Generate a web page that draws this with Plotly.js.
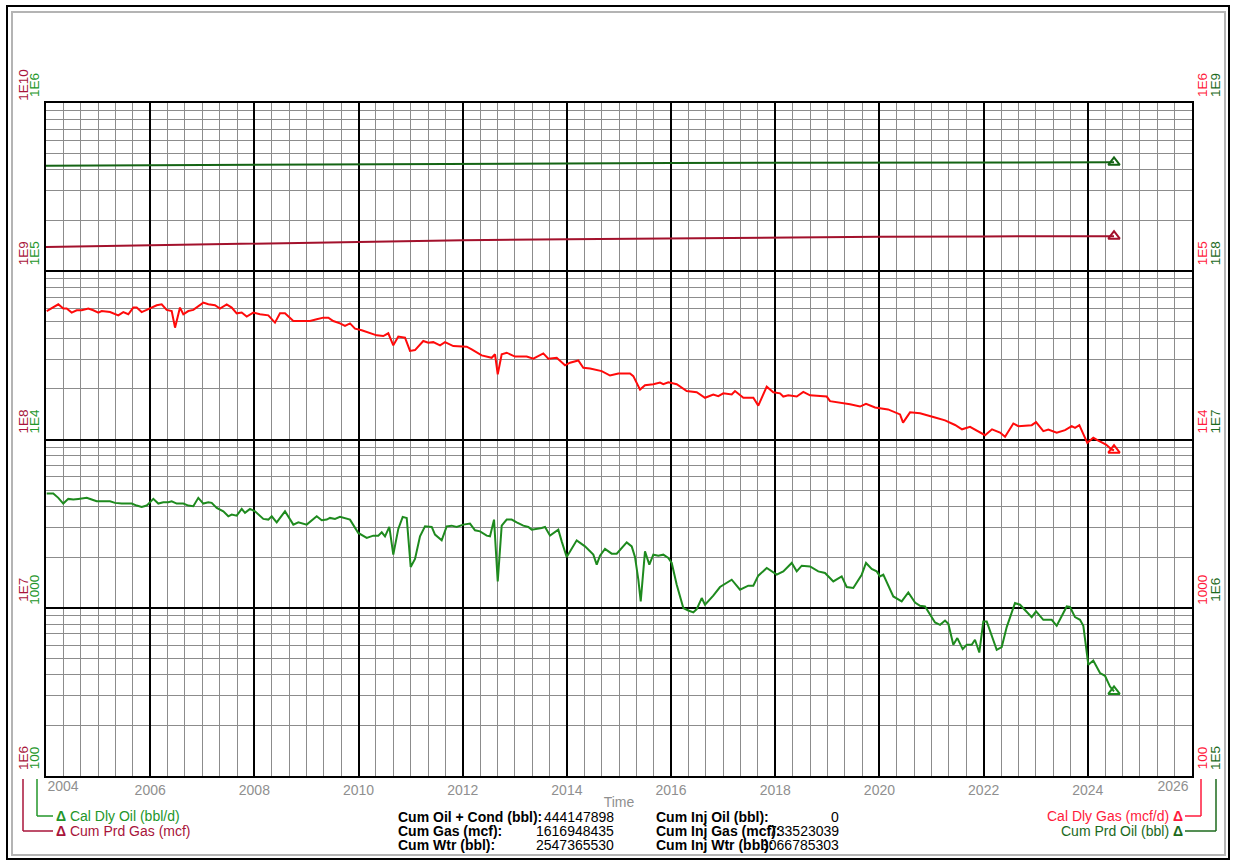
<!DOCTYPE html>
<html>
<head>
<meta charset="utf-8">
<script src="https://cdn.plot.ly/plotly-3.0.1.min.js"></script>
<style>
  html, body { margin: 0; padding: 0; background: #fff; }
  #wrap { position: relative; width: 1233px; height: 861px; overflow: hidden; }
  #outer { position: absolute; left: 6px; top: 5px; width: 1220px; height: 851px; border: 2px solid #000; }
  #inner { position: absolute; left: 11px; top: 11px; width: 1211px; height: 841px; border: 2px solid #b4b4b4; }
  #chart { position: absolute; left: 0; top: 0; width: 1233px; height: 861px; }
</style>
</head>
<body>
<div id="wrap">
  <div id="outer"></div>
  <div id="inner"></div>
  <div id="chart"></div>
</div>
<script>
// ---------------- DATA ----------------
// Calendar daily oil rate (bbl/d), time in decimal years
const oilYears = [2004.013,2004.140,2004.236,2004.332,2004.428,2004.524,2004.620,2004.781,2004.877,2004.973,
  2005.229,2005.325,2005.453,2005.645,2005.741,2005.837,2005.933,2006.060,2006.156,2006.252,2006.348,2006.413,
  2006.509,2006.636,2006.732,2006.828,2006.924,2007.020,2007.116,2007.181,2007.277,2007.404,2007.500,2007.565,
  2007.661,2007.757,2007.820,2007.916,2008.012,2008.108,2008.172,2008.268,2008.333,2008.429,2008.588,2008.748,
  2008.844,2009.005,2009.132,2009.197,2009.293,2009.389,2009.452,2009.548,2009.644,2009.836,2009.995,2010.157,
  2010.283,2010.379,2010.445,2010.508,2010.591,2010.667,2010.763,2010.848,2010.925,2011.001,2011.084,2011.180,
  2011.276,2011.405,2011.468,2011.596,2011.692,2011.788,2011.884,2012.011,2012.140,2012.236,2012.332,2012.460,
  2012.524,2012.601,2012.672,2012.748,2012.844,2012.940,2013.036,2013.163,2013.259,2013.324,2013.516,2013.580,
  2013.676,2013.835,2013.900,2013.996,2014.188,2014.347,2014.507,2014.572,2014.635,2014.731,2014.860,2014.956,
  2015.148,2015.244,2015.307,2015.371,2015.417,2015.499,2015.582,2015.659,2015.755,2015.851,2015.947,2016.012,
  2016.108,2016.235,2016.331,2016.427,2016.492,2016.588,2016.651,2016.810,2016.939,2017.164,2017.323,2017.482,
  2017.579,2017.674,2017.836,2018.028,2018.154,2018.316,2018.412,2018.508,2018.667,2018.826,2018.955,2019.051,
  2019.114,2019.275,2019.371,2019.498,2019.659,2019.742,2019.851,2019.947,2020.011,2020.074,2020.266,2020.427,
  2020.554,2020.683,2020.779,2020.875,2021.067,2021.163,2021.259,2021.322,2021.418,2021.495,2021.598,2021.675,
  2021.771,2021.834,2021.917,2021.994,2022.059,2022.251,2022.347,2022.443,2022.602,2022.698,2022.923,2023.006,
  2023.146,2023.307,2023.403,2023.595,2023.658,2023.754,2023.850,2023.914,2024.010,2024.105,2024.234,2024.330,
  2024.426,2024.503];
const oilRate = [4770,4770,4500,4160,4436,4395,4436,4500,4395,4293,
  4293,4200,4160,4160,4048,3976,4048,4436,4160,4235,4235,4293,
  4160,4160,4048,4009,4500,4160,4235,4200,3922,3743,3495,3578,
  3529,3869,3662,3869,3743,3495,3373,3341,3495,3219,3743,3119,
  3219,3119,3341,3495,3309,3341,3419,3373,3467,3341,2784,2600,
  2683,2683,2807,2657,3022,2068,2941,3467,3419,1747,1950,2657,
  3047,3022,2720,2516,3047,3076,3022,3119,3162,2885,2846,2683,
  2657,3341,1434,3076,3341,3341,3219,3076,3022,2912,2981,3022,
  2683,2912,2481,2004,2516,2317,2068,1803,2040,2236,2096,2096,
  2447,2317,2004,1468,1090,2163,1803,2068,2040,2068,1977,1846,
  1371,996,963,938,982,1142,1042,1179,1328,1468,1280,1352,
  1352,1551,1723,1572,1645,1846,1645,1778,1761,1645,1609,1503,
  1434,1536,1328,1310,1572,1846,1700,1645,1536,1572,1167,1090,
  1233,1075,1028,1018,818,792,840,803,602,660,568,602,
  602,645,542,829,829,562,584,767,1067,1042,880,951,
  848,848,781,1018,1010,880,848,781,458,486,409,394,
  340,318];

// Calendar daily gas rate (mcf/d)
const gasYears = [2004.013,2004.236,2004.332,2004.397,2004.493,2004.589,2004.685,2004.812,2004.908,2005.004,
  2005.069,2005.229,2005.388,2005.484,2005.580,2005.676,2005.741,2005.837,2005.933,2006.029,2006.125,2006.221,
  2006.317,2006.413,2006.477,2006.572,2006.636,2006.732,2006.828,2007.020,2007.116,2007.244,2007.340,2007.469,
  2007.565,2007.661,2007.757,2007.853,2007.980,2008.108,2008.268,2008.396,2008.492,2008.588,2008.748,2008.876,
  2009.068,2009.197,2009.323,2009.420,2009.515,2009.644,2009.740,2009.836,2009.932,2010.061,2010.220,2010.349,
  2010.475,2010.571,2010.667,2010.763,2010.892,2010.988,2011.084,2011.243,2011.339,2011.435,2011.564,2011.660,
  2011.819,2012.076,2012.172,2012.364,2012.556,2012.620,2012.672,2012.748,2012.844,2013.004,2013.228,2013.355,
  2013.547,2013.643,2013.804,2013.964,2014.060,2014.219,2014.315,2014.444,2014.668,2014.828,2014.987,2015.211,
  2015.275,2015.404,2015.499,2015.659,2015.787,2015.851,2015.947,2016.108,2016.300,2016.492,2016.651,2016.810,
  2016.906,2017.003,2017.164,2017.227,2017.387,2017.579,2017.674,2017.836,2017.962,2018.091,2018.154,2018.250,
  2018.412,2018.538,2018.667,2018.859,2018.988,2019.051,2019.243,2019.435,2019.627,2019.742,2019.915,2020.165,
  2020.395,2020.453,2020.587,2020.779,2021.067,2021.259,2021.451,2021.585,2021.739,2021.892,2022.027,2022.161,
  2022.315,2022.411,2022.570,2022.666,2022.827,2022.923,2023.006,2023.146,2023.242,2023.403,2023.563,2023.691,
  2023.754,2023.837,2023.990,2024.105,2024.202,2024.349,2024.459,2024.503];
const gasRate = [58000,63600,60000,60000,56800,58600,58600,60000,58600,56800,
  58000,57200,54700,57200,55500,60800,60800,57200,58900,60800,62800,63600,
  58900,58000,46200,60800,55500,58000,58900,65100,63600,62800,60000,63600,
  60800,56200,56800,53800,56800,55500,54700,49500,56200,56200,50600,50600,
  50600,51800,53000,53000,50600,49000,47300,49000,45600,44600,42800,41600,
  41200,42800,36300,40900,40300,33600,34000,38500,37600,37900,36300,37900,
  35900,35600,34300,31600,30600,32100,24400,32100,32800,31100,31100,30200,
  32500,30200,30600,27600,28600,29500,26700,26400,25500,24000,24700,24700,
  23800,19800,21000,21300,21800,21300,21900,21300,19400,19100,17700,18500,
  18100,18800,18500,19400,17700,17700,15900,20600,19100,18800,18000,18300,
  18000,19200,18300,18100,18000,16900,16600,16200,15700,16300,15500,15100,
  14100,12600,14500,14300,13500,13000,12200,11500,11900,11200,10600,11500,
  11000,10380,12450,12000,12170,12170,12680,11210,11470,10960,11360,12000,
  11740,12170,9560,10240,9860,9340,8720,8640];

// Cumulative production
const cumYears = [2004.0,2006.0,2008.0,2010.0,2012.0,2014.0,2016.0,2018.0,2020.0,2022.0,2024.0,2024.503];
const cumGas   = [1.395e9,1.430e9,1.465e9,1.499e9,1.527e9,1.552e9,1.573e9,1.589e9,1.603e9,1.611e9,1.6165e9,1.6169e9]; // mcf
const cumOil   = [4.240e8,4.272e8,4.303e8,4.332e8,4.354e8,4.375e8,4.394e8,4.409e8,4.422e8,4.432e8,4.440e8,4.4415e8]; // bbl

// Axis ticks
const xTickVals = [2004,2006,2008,2010,2012,2014,2016,2018,2020,2022,2024,2026];
const xTickText = ['2004','2006','2008','2010','2012','2014','2016','2018','2020','2022','2024','2026'];
const rateTickVals = [100,1000,1e4,1e5,1e6];
const rateTickText = ['100','1000','1E4','1E5','1E6'];
const cumGasTickVals = [1e6,1e7,1e8,1e9,1e10];
const cumGasTickText = ['1E6','1E7','1E8','1E9','1E10'];
const cumOilTickVals = [1e5,1e6,1e7,1e8,1e9];
const cumOilTickText = ['1E5','1E6','1E7','1E8','1E9'];

// Legend and summary text
const legendLeft = ['Cal Dly Oil (bbl/d)','Cum Prd Gas (mcf)'];
const legendRight = ['Cal Dly Gas (mcf/d)','Cum Prd Oil (bbl)'];
const statLabelsA = ['Cum Oil + Cond (bbl):','Cum Gas (mcf):','Cum Wtr (bbl):'];
const statValuesA = ['444147898','1616948435','2547365530'];
const statLabelsB = ['Cum Inj Oil (bbl):','Cum Inj Gas (mcf):','Cum Inj Wtr (bbl):'];
const statValuesB = ['0','733523039','3066785303'];

// ---------------- STYLE ----------------
const C_OIL = '#1e8a1e', C_CUMOIL = '#146414', C_GAS = '#ff0a0a', C_CUMGAS = '#a3112c';
const C_LBL_OIL = '#23962a', C_LBL_CUMGAS = '#a8143a', C_LBL_GAS = '#ff1a3c', C_LBL_CUMOIL = '#1c6a1c';
const FONT = 'Arial, "Liberation Sans", sans-serif';
const GRAY_TXT = '#8f8f8f';

const W = 1233, H = 861;
const PL = 46, PR = 1192, PT = 103, PB = 776;
const px = v => (v - PL) / (PR - PL);
const py = v => (PB - v) / (PB - PT);

function last(a){ return a[a.length-1]; }

const traces = [
  {x: cumYears, y: cumOil, yaxis: 'y4', mode: 'lines', line: {color: C_CUMOIL, width: 2}, hoverinfo: 'skip'},
  {x: cumYears, y: cumGas, yaxis: 'y2', mode: 'lines', line: {color: C_CUMGAS, width: 2}, hoverinfo: 'skip'},
  {x: gasYears, y: gasRate, yaxis: 'y3', mode: 'lines', line: {color: C_GAS, width: 2}, hoverinfo: 'skip'},
  {x: oilYears, y: oilRate, yaxis: 'y', mode: 'lines', line: {color: C_OIL, width: 2}, hoverinfo: 'skip'},
  {x: [last(cumYears)], y: [last(cumOil)], xaxis: 'x3', yaxis: 'y4', mode: 'markers',
   marker: {symbol: 'triangle-up-open', size: 10, color: C_CUMOIL, line: {width: 2, color: C_CUMOIL}}},
  {x: [last(cumYears)], y: [last(cumGas)], xaxis: 'x2', yaxis: 'y2', mode: 'markers',
   marker: {symbol: 'triangle-up-open', size: 10, color: C_CUMGAS, line: {width: 2, color: C_CUMGAS}}},
  {x: [last(gasYears)], y: [last(gasRate)], yaxis: 'y3', mode: 'markers',
   marker: {symbol: 'triangle-up-open', size: 10, color: C_GAS, line: {width: 2, color: C_GAS}}},
  {x: [last(oilYears)], y: [last(oilRate)], yaxis: 'y', mode: 'markers',
   marker: {symbol: 'triangle-up-open', size: 10, color: C_OIL, line: {width: 2, color: C_OIL}}}
];

const yCommon = {
  type: 'log', ticks: '', tickangle: -90, showgrid: false, zeroline: false,
  tickmode: 'array', automargin: false, fixedrange: true, ticklabelshift: -16
};
const xRange = [2004, 2026];
const xEdgeCommon = {
  range: xRange, tickmode: 'array', overlaying: 'x', anchor: 'y', side: 'bottom',
  showgrid: false, showline: false, zeroline: false, ticks: '', automargin: false, fixedrange: true,
  tickfont: {size: 14, color: GRAY_TXT, family: FONT}
};

const layout = {
  width: W, height: H,
  paper_bgcolor: 'rgba(0,0,0,0)', plot_bgcolor: '#ffffff',
  margin: {l: PL, r: W - PR, t: PT, b: H - PB, pad: 0},
  showlegend: false,
  font: {family: FONT, size: 12, color: '#000'},
  xaxis: {
    range: xRange, tickmode: 'array', tickvals: xTickVals.slice(1, -1), ticktext: xTickText.slice(1, -1),
    showgrid: true, gridcolor: '#000', gridwidth: 2,
    minor: {dtick: 1/3, tick0: 2004, showgrid: true, gridcolor: '#8c8c8c', gridwidth: 1},
    showline: true, linecolor: '#000', linewidth: 2, mirror: true,
    ticks: '', tickfont: {size: 14, color: GRAY_TXT, family: FONT},
    title: {text: 'Time', font: {size: 14, color: GRAY_TXT, family: FONT}, standoff: 0},
    zeroline: false, automargin: false, fixedrange: true
  },
  xaxis2: Object.assign({}, xEdgeCommon, {
    tickvals: xTickVals.slice(0, 1), ticktext: xTickText.slice(0, 1), ticklabelshift: 17
  }),
  xaxis3: Object.assign({}, xEdgeCommon, {
    tickvals: xTickVals.slice(-1), ticktext: xTickText.slice(-1), ticklabelshift: -19
  }),
  yaxis: Object.assign({}, yCommon, {
    range: [2, 6], tickvals: rateTickVals, ticktext: rateTickText,
    tickfont: {size: 13.5, color: C_LBL_OIL, family: FONT},
    showgrid: true, gridcolor: '#000', gridwidth: 2,
    minor: {dtick: 'D1', showgrid: true, gridcolor: '#8c8c8c', gridwidth: 1},
    showline: true, linecolor: '#000', linewidth: 2, mirror: true,
    ticklabelstandoff: 0
  }),
  yaxis2: Object.assign({}, yCommon, {
    range: [6, 10], tickvals: cumGasTickVals, ticktext: cumGasTickText,
    tickfont: {size: 13.5, color: C_LBL_CUMGAS, family: FONT},
    overlaying: 'y', side: 'left', anchor: 'x', ticklabelstandoff: 14
  }),
  yaxis3: Object.assign({}, yCommon, {
    range: [2, 6], tickvals: rateTickVals, ticktext: rateTickText,
    tickfont: {size: 13.5, color: C_LBL_GAS, family: FONT},
    overlaying: 'y', side: 'right', anchor: 'x', ticklabelstandoff: 0
  }),
  yaxis4: Object.assign({}, yCommon, {
    range: [5, 9], tickvals: cumOilTickVals, ticktext: cumOilTickText,
    tickfont: {size: 13.5, color: C_LBL_CUMOIL, family: FONT},
    overlaying: 'y', side: 'right', anchor: 'x', ticklabelstandoff: 13
  }),
  shapes: [],
  annotations: []
};

// legend connector lines (decoration, paper coordinates)
function seg(x0, y0, x1, y1, color){
  layout.shapes.push({type: 'line', xref: 'paper', yref: 'paper',
    x0: px(x0), y0: py(y0), x1: px(x1), y1: py(y1), line: {color: color, width: 1.5}});
}
seg(37, 779, 37, 816, C_LBL_OIL); seg(37, 816, 53, 816, C_LBL_OIL);
seg(23, 779, 23, 831, C_LBL_CUMGAS); seg(23, 831, 53, 831, C_LBL_CUMGAS);
seg(1201, 779, 1201, 816, C_LBL_GAS); seg(1185, 816, 1201, 816, C_LBL_GAS);
seg(1216, 779, 1216, 831, C_LBL_CUMOIL); seg(1185, 831, 1216, 831, C_LBL_CUMOIL);

function ann(text, x, y, xanchor, color, bold, size){
  layout.annotations.push({text: bold ? '<b>' + text + '</b>' : text, xref: 'paper', yref: 'paper',
    x: px(x), y: py(y), xanchor: xanchor, yanchor: 'middle', showarrow: false,
    font: {family: FONT, size: size || 14, color: color}});
}
ann('<b>Δ</b> ' + legendLeft[0], 54, 816, 'left', C_LBL_OIL, false, 14);
ann('<b>Δ</b> ' + legendLeft[1], 54, 831, 'left', C_LBL_CUMGAS, false, 14);
ann(legendRight[0] + ' <b>Δ</b>', 1185, 816, 'right', C_LBL_GAS, false, 14);
ann(legendRight[1] + ' <b>Δ</b>', 1185, 831, 'right', C_LBL_CUMOIL, false, 14);

const rowsY = [817, 831, 845];
for (let i = 0; i < 3; i++) {
  ann(statLabelsA[i], 396, rowsY[i], 'left', '#000', true, 14);
  ann(statValuesA[i], 616, rowsY[i], 'right', '#000', false, 14);
  ann(statLabelsB[i], 654, rowsY[i], 'left', '#000', true, 14);
  ann(statValuesB[i], 841, rowsY[i], 'right', '#000', false, 14);
}

Plotly.newPlot('chart', traces, layout, {displayModeBar: false, staticPlot: true});
</script>
</body>
</html>
